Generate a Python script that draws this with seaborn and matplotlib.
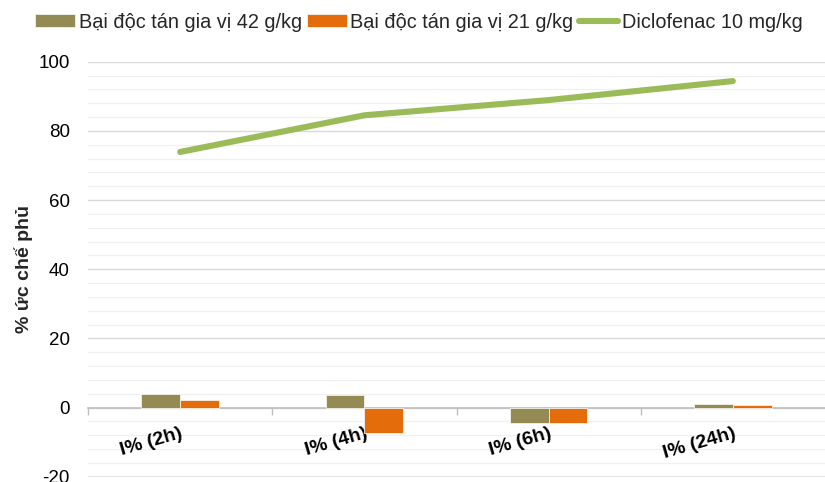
import numpy as np
import pandas as pd
import matplotlib
matplotlib.use("Agg")
import matplotlib.pyplot as plt
from matplotlib.ticker import FixedLocator
import seaborn as sns

# Data
categories = ["I% (2h)", "I% (4h)", "I% (6h)", "I% (24h)"]
dose_42 = [3.8, 3.5, -4.4, 0.9]
dose_21 = [2.1, -7.5, -4.6, 0.6]
diclofenac = [73.9, 84.5, 88.9, 94.4]
series_names = ["Bại độc tán gia vị 42 g/kg", "Bại độc tán gia vị 21 g/kg", "Diclofenac 10 mg/kg"]
y_ticks = [-20, 0, 20, 40, 60, 80, 100]

sns.set_theme(style="white")
plt.rcParams["font.family"] = ["Liberation Sans", "DejaVu Sans"]
plt.rcParams["axes.unicode_minus"] = False

bars = pd.DataFrame({
    "cat": categories * 2,
    "val": dose_42 + dose_21,
    "grp": [series_names[0]] * 4 + [series_names[1]] * 4,
})

fig = plt.figure(figsize=(8.25, 4.82), dpi=100)
ax = fig.add_axes([88 / 825, 0.011, 1 - 88 / 825, 0.872 - 0.011])

# gridlines: darker every 20, faint every 4
for v in np.arange(-20, 101, 4):
    major = (v % 20 == 0)
    ax.axhline(v, color="#D9D9D9" if major else "#F0F0F0",
               lw=1.8 if v == -20 else (1.0 if major else 0.9), zorder=0)

sns.barplot(data=bars, x="cat", y="val", hue="grp", order=categories,
            hue_order=series_names[:2], palette=["#948A54", "#E46C0A"],
            saturation=1, width=0.42, edgecolor="#F4F1EA", linewidth=0.6,
            ax=ax, zorder=2)

sns.lineplot(x=np.arange(len(categories)), y=diclofenac, color="#9BBB59",
             lw=4.4, ax=ax, label=series_names[2], zorder=3,
             solid_capstyle="round")

ax.set_xlim(-0.5, 3.5)
ax.set_ylim(-20, 100)
ax.set_yticks(y_ticks)
ax.tick_params(axis="y", length=0, pad=13, labelsize=13.5, colors="black")

for s in ["top", "right", "left"]:
    ax.spines[s].set_visible(False)
ax.spines["bottom"].set_position(("data", 0))
ax.spines["bottom"].set_color("#BFBFBF")
ax.spines["bottom"].set_linewidth(1.2)
ax.spines["bottom"].set_zorder(1)

ax.set_xticks(range(len(categories)))
ax.set_xticklabels(categories, rotation=16, ha="right", rotation_mode="anchor",
                   fontweight="bold", fontsize=14)
ax.tick_params(axis="x", which="major", length=0, pad=12.5, colors="black")
ax.xaxis.set_minor_locator(FixedLocator([-0.5, 0.5, 1.5, 2.5]))
ax.tick_params(axis="x", which="minor", length=5, width=1.0, color="#BFBFBF",
               direction="out", bottom=True)

ax.set_xlabel("")
ax.set_ylabel("% ức chế phủ", fontweight="bold", fontsize=14, labelpad=4)

handles, labels = ax.get_legend_handles_labels()
if ax.legend_:
    ax.legend_.remove()
fig.legend(handles, labels, loc="center", bbox_to_anchor=(419 / 825, 1 - 22 / 482),
           ncol=3, frameon=False, fontsize=14.3, handlelength=2.0,
           handleheight=0.6, handletextpad=0.2, columnspacing=0.25,
           borderpad=0, borderaxespad=0)

fig.savefig("out.png", dpi=100)
